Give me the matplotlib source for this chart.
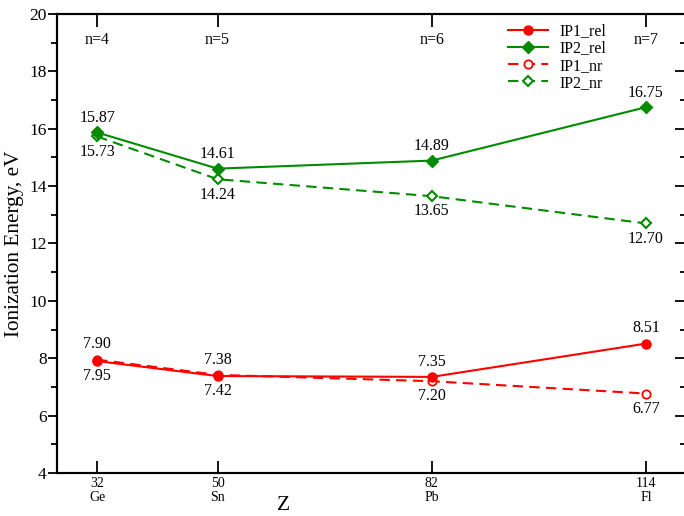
import matplotlib
matplotlib.use("Agg")
import matplotlib.pyplot as plt
from matplotlib.ticker import MultipleLocator

plt.rcParams['font.family'] = ['Liberation Serif', 'DejaVu Serif']

Z = [32, 50, 82, 114]
elements = ["Ge", "Sn", "Pb", "Fl"]
shells = ["n=4", "n=5", "n=6", "n=7"]
ip1_rel = [7.90, 7.38, 7.35, 8.51]
ip2_rel = [15.87, 14.61, 14.89, 16.75]
ip1_nr = [7.95, 7.42, 7.20, 6.77]
ip2_nr = [15.73, 14.24, 13.65, 12.70]

RED = '#FF0000'
GREEN = '#008B00'

fig = plt.figure(figsize=(6.84, 5.16), dpi=100)
ax = fig.add_axes([57/684, 43/516, 629/684, 459/516])

ax.plot(Z, ip1_nr, '--', color=RED, lw=1.5, marker='o', ms=6, mfc='white',
        mew=1.3, dashes=(5, 3), label='IP1_nr', zorder=2)
ax.plot(Z, ip2_nr, '--', color=GREEN, lw=1.5, marker='D', ms=5.5, mfc='white',
        mew=1.5, dashes=(5, 3), label='IP2_nr', zorder=2)
ax.plot(Z, ip1_rel, '-', color=RED, lw=1.5, marker='o', ms=6.5, label='IP1_rel', zorder=3)
ax.plot(Z, ip2_rel, '-', color=GREEN, lw=1.5, marker='D', ms=6, label='IP2_rel', zorder=3)

for x, a, b in zip(Z, ip1_rel, ip1_nr):
    ax.annotate(f"{a:.2f}", (x, max(a, b)), xytext=(0, 11), textcoords='offset points',
                ha='center', va='center', fontsize=11.5)
    ax.annotate(f"{b:.2f}", (x, min(a, b)), xytext=(0, -11), textcoords='offset points',
                ha='center', va='center', fontsize=11.5)
for x, a, b in zip(Z, ip2_rel, ip2_nr):
    ax.annotate(f"{a:.2f}", (x, a), xytext=(0, 10.5), textcoords='offset points',
                ha='center', va='center', fontsize=11.5)
    ax.annotate(f"{b:.2f}", (x, b), xytext=(0, -11), textcoords='offset points',
                ha='center', va='center', fontsize=11.5)

for x, s in zip(Z, shells):
    ax.text(x, 19.1, s, ha='center', va='center', fontsize=11.5)

ax.set_xlim(26, 120)
ax.set_ylim(4, 20)
ax.set_xticks(Z)
ax.set_xticklabels([f"{z}\n{e}" for z, e in zip(Z, elements)], fontsize=10, linespacing=1.05)
ax.yaxis.set_major_locator(MultipleLocator(2))
ax.yaxis.set_minor_locator(MultipleLocator(1))
ax.tick_params(axis='x', which='major', direction='in', top=True, bottom=True,
               length=9, width=1.3, pad=3)
ax.tick_params(axis='y', which='major', direction='out', length=6.5, width=1.3,
               labelsize=12.5, pad=0.8)
ax.tick_params(axis='y', which='minor', direction='out', length=4, width=1.3)

ax2 = ax.twinx()
ax2.set_ylim(4, 20)
ax2.yaxis.set_major_locator(MultipleLocator(2))
ax2.yaxis.set_minor_locator(MultipleLocator(1))
ax2.tick_params(axis='y', which='major', direction='in', length=8, width=1.3, labelright=False)
ax2.tick_params(axis='y', which='minor', direction='in', length=4, width=1.3)

for a in (ax, ax2):
    for sp in a.spines.values():
        sp.set_linewidth(1.5)

fig.text(284 / 684, 1 - 506 / 516, 'Z', ha='center', va='center', fontsize=15.5)
ax.set_ylabel('Ionization Energy, eV', fontsize=15.3, labelpad=4)

handles, labels = ax.get_legend_handles_labels()
order = [2, 3, 0, 1]
ax.legend([handles[i] for i in order], [labels[i] for i in order],
          loc='upper left', bbox_to_anchor=((496 - 57) / 629, 1.006), frameon=False,
          fontsize=11.5, handlelength=2.5, handletextpad=0.7, labelspacing=0.08,
          borderaxespad=0.35)

fig.savefig('out.png', dpi=100)
